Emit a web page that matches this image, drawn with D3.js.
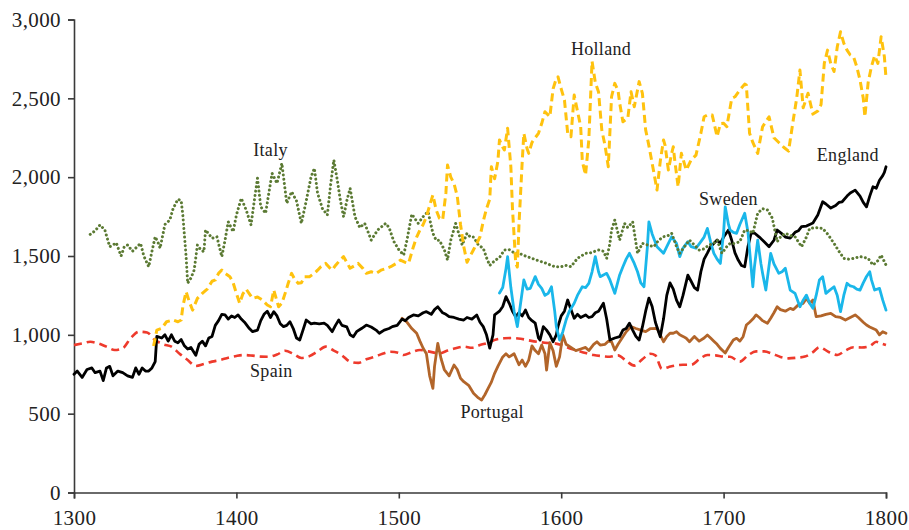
<!DOCTYPE html>
<html>
<head>
<meta charset="utf-8">
<script src="https://cdn.jsdelivr.net/npm/d3@7"></script>
<style>
  html, body { margin: 0; padding: 0; background: #fff; }
  svg { display: block; }
</style>
</head>
<body>
<svg id="chart" width="909" height="530"></svg>
<script>
// ---- Data (year, value) ----
const xTicks = [1300, 1400, 1500, 1600, 1700, 1800];
const yTicks = [0, 500, 1000, 1500, 2000, 2500, 3000];

const spain = [[1300,935],[1305,945],[1310,956],[1315,945],[1320,925],[1325,904],[1330,915],[1335,980],[1340,1020],[1345,1015],[1350,967],[1355,940],[1360,925],[1365,880],[1370,840],[1375,802],[1380,815],[1385,830],[1390,840],[1395,855],[1400,866],[1405,872],[1410,868],[1415,862],[1420,861],[1425,875],[1430,899],[1435,880],[1440,853],[1445,865],[1450,895],[1455,925],[1460,900],[1465,870],[1470,830],[1475,822],[1480,845],[1485,860],[1490,880],[1495,893],[1500,885],[1503,872],[1508,890],[1513,904],[1518,895],[1525,883],[1530,900],[1535,915],[1540,925],[1545,918],[1550,935],[1555,950],[1560,970],[1565,978],[1570,980],[1575,975],[1580,965],[1585,956],[1590,950],[1596,946],[1600,935],[1605,915],[1610,900],[1615,885],[1620,872],[1625,865],[1630,861],[1635,870],[1640,835],[1645,805],[1650,845],[1655,880],[1658,870],[1662,785],[1666,795],[1670,805],[1675,810],[1680,810],[1685,845],[1690,872],[1695,870],[1700,862],[1704,861],[1710,830],[1715,870],[1720,895],[1725,895],[1730,880],[1735,860],[1740,851],[1745,855],[1750,862],[1755,890],[1759,921],[1765,890],[1770,872],[1775,900],[1780,921],[1785,920],[1790,928],[1794,956],[1797,945],[1800,935]];

const portugal = [[1502,1105],[1505,1080],[1508,1040],[1511,1010],[1513,960],[1515,915],[1517,880],[1519,740],[1521,661],[1522,800],[1524,946],[1526,850],[1528,780],[1531,740],[1534,809],[1536,780],[1538,724],[1540,703],[1543,680],[1546,629],[1549,600],[1551,587],[1553,620],[1555,661],[1557,700],[1559,756],[1561,800],[1564,860],[1566,880],[1568,860],[1571,880],[1574,810],[1576,840],[1578,800],[1580,840],[1582,930],[1584,900],[1586,880],[1588,935],[1590,880],[1591,777],[1593,950],[1595,900],[1597,800],[1599,860],[1601,1000],[1603,940],[1606,920],[1609,900],[1612,910],[1615,920],[1617,900],[1620,940],[1622,956],[1624,935],[1627,940],[1629,960],[1631,956],[1633,904],[1635,940],[1638,988],[1640,1020],[1643,1052],[1646,1040],[1649,1030],[1652,1020],[1655,1040],[1659,1041],[1661,1000],[1663,956],[1665,990],[1667,1010],[1669,1010],[1671,1020],[1673,1000],[1675,990],[1677,978],[1679,956],[1682,990],[1685,960],[1688,980],[1690,999],[1692,980],[1694,960],[1696,940],[1698,914],[1701,885],[1703,920],[1706,967],[1708,978],[1710,960],[1712,988],[1714,1062],[1716,1080],[1718,1100],[1720,1126],[1722,1110],[1724,1090],[1727,1073],[1729,1105],[1731,1140],[1733,1178],[1735,1160],[1738,1150],[1741,1168],[1743,1160],[1746,1190],[1749,1200],[1751,1231],[1753,1200],[1755,1221],[1757,1115],[1760,1120],[1763,1130],[1766,1136],[1769,1115],[1772,1110],[1775,1094],[1778,1110],[1781,1126],[1783,1110],[1786,1080],[1788,1062],[1790,1050],[1792,1040],[1794,1030],[1796,1000],[1798,1020],[1800,1010]];

const england = [[1300,750],[1302,770],[1305,730],[1308,780],[1311,790],[1313,760],[1316,770],[1318,710],[1320,790],[1322,800],[1324,740],[1327,770],[1330,760],[1333,740],[1336,730],[1338,790],[1340,750],[1342,790],[1344,770],[1346,770],[1348,790],[1350,830],[1351,990],[1354,980],[1356,1000],[1358,960],[1360,1000],[1362,960],[1364,950],[1366,970],[1368,930],[1370,910],[1372,920],[1375,870],[1377,940],[1379,960],[1381,930],[1383,980],[1385,990],[1387,1060],[1389,1090],[1391,1130],[1393,1126],[1395,1100],[1397,1120],[1399,1110],[1401,1126],[1403,1100],[1405,1080],[1408,1040],[1410,1020],[1413,1030],[1415,1090],[1417,1130],[1419,1150],[1421,1110],[1423,1147],[1425,1120],[1427,1070],[1429,1052],[1431,1060],[1433,1083],[1435,1040],[1437,980],[1439,967],[1441,1030],[1443,1094],[1446,1070],[1448,1074],[1451,1070],[1454,1074],[1456,1060],[1459,1020],[1461,1060],[1463,1094],[1465,1060],[1468,1050],[1470,1000],[1472,988],[1474,1020],[1477,1040],[1480,1062],[1483,1050],[1486,1030],[1488,1010],[1491,1030],[1494,1040],[1496,1052],[1499,1060],[1502,1100],[1504,1090],[1506,1110],[1509,1126],[1512,1120],[1515,1140],[1517,1147],[1520,1130],[1522,1160],[1524,1178],[1527,1140],[1529,1130],[1531,1115],[1534,1110],[1537,1100],[1540,1094],[1542,1110],[1545,1100],[1548,1126],[1550,1080],[1552,1052],[1554,1000],[1556,916],[1558,1000],[1559,1126],[1562,1150],[1564,1180],[1566,1242],[1568,1200],[1570,1150],[1572,1115],[1574,1140],[1576,1120],[1578,1157],[1580,1110],[1582,1090],[1584,1074],[1586,980],[1587,967],[1589,1052],[1591,1030],[1593,1000],[1595,956],[1597,1000],[1598,1052],[1600,1120],[1602,1150],[1604,1221],[1606,1160],[1608,1105],[1610,1130],[1612,1110],[1615,1126],[1617,1110],[1619,1115],[1621,1140],[1623,1150],[1626,1200],[1628,1100],[1630,967],[1633,980],[1636,988],[1638,1030],[1640,1040],[1642,1074],[1644,1030],[1646,990],[1648,967],[1650,1050],[1652,1150],[1654,1233],[1656,1180],[1658,1080],[1661,988],[1663,1100],[1665,1250],[1667,1329],[1669,1290],[1671,1220],[1673,1178],[1675,1250],[1678,1379],[1680,1340],[1682,1300],[1684,1284],[1686,1400],[1688,1480],[1690,1518],[1692,1560],[1694,1580],[1696,1601],[1698,1580],[1700,1620],[1703,1665],[1705,1600],[1707,1520],[1709,1474],[1711,1440],[1713,1432],[1715,1560],[1717,1646],[1719,1646],[1722,1620],[1725,1590],[1728,1559],[1731,1600],[1733,1665],[1736,1640],[1738,1620],[1741,1614],[1744,1650],[1746,1660],[1748,1686],[1751,1690],[1753,1700],[1755,1709],[1758,1760],[1761,1844],[1763,1830],[1766,1804],[1769,1820],[1771,1840],[1773,1844],[1776,1880],[1778,1900],[1781,1918],[1784,1880],[1786,1840],[1788,1812],[1790,1880],[1792,1939],[1794,1930],[1796,1980],[1798,2010],[1799,2030],[1800,2066]];

const sweden = [[1562,1265],[1564,1300],[1566,1420],[1567,1496],[1569,1300],[1571,1150],[1573,1052],[1575,1200],[1577,1348],[1579,1290],[1581,1295],[1584,1369],[1586,1320],[1588,1295],[1590,1250],[1592,1263],[1594,1305],[1596,1150],[1597,1052],[1599,967],[1601,1020],[1603,1094],[1605,1150],[1608,1200],[1610,1250],[1613,1305],[1615,1300],[1617,1327],[1619,1400],[1621,1496],[1623,1400],[1624,1369],[1626,1380],[1628,1390],[1630,1348],[1633,1263],[1636,1380],[1638,1432],[1640,1480],[1642,1517],[1645,1453],[1647,1400],[1649,1330],[1651,1305],[1653,1550],[1654,1717],[1656,1640],[1659,1559],[1661,1538],[1663,1517],[1666,1580],[1668,1622],[1671,1580],[1673,1496],[1675,1550],[1678,1591],[1680,1559],[1683,1549],[1686,1591],[1688,1620],[1690,1675],[1692,1590],[1694,1517],[1696,1480],[1698,1453],[1700,1650],[1701,1812],[1703,1700],[1704,1665],[1706,1650],[1708,1644],[1710,1700],[1713,1771],[1715,1650],[1716,1538],[1718,1305],[1719,1432],[1721,1601],[1723,1450],[1724,1390],[1726,1284],[1729,1517],[1731,1450],[1734,1390],[1736,1400],[1738,1422],[1741,1284],[1744,1263],[1747,1178],[1749,1220],[1751,1252],[1753,1200],[1755,1168],[1757,1250],[1759,1348],[1761,1369],[1763,1263],[1765,1280],[1768,1305],[1770,1250],[1772,1147],[1774,1250],[1776,1327],[1778,1310],[1780,1305],[1782,1290],[1784,1284],[1786,1330],[1788,1370],[1790,1400],[1791,1350],[1793,1284],[1796,1295],[1798,1220],[1800,1157]];

const italy = [[1310,1637],[1313,1660],[1316,1697],[1319,1665],[1322,1559],[1324,1570],[1326,1584],[1329,1500],[1331,1560],[1333,1570],[1336,1530],[1338,1550],[1341,1580],[1343,1500],[1346,1432],[1348,1530],[1350,1622],[1352,1580],[1353,1549],[1356,1700],[1359,1728],[1361,1800],[1364,1861],[1366,1850],[1367,1760],[1369,1500],[1370,1327],[1372,1360],[1374,1411],[1376,1570],[1378,1540],[1380,1527],[1381,1665],[1383,1640],[1385,1612],[1388,1622],[1391,1496],[1393,1600],[1395,1717],[1398,1654],[1400,1760],[1403,1866],[1406,1792],[1409,1697],[1411,1850],[1413,1993],[1415,1812],[1418,1771],[1420,1900],[1422,2024],[1425,1961],[1428,2088],[1431,1834],[1434,1908],[1437,1850],[1440,1707],[1443,1850],[1446,2003],[1448,2056],[1450,1897],[1453,1800],[1456,1760],[1458,1950],[1460,2109],[1462,1990],[1464,1855],[1466,1749],[1468,1850],[1470,1929],[1473,1749],[1476,1680],[1479,1707],[1483,1601],[1487,1665],[1492,1707],[1494,1680],[1497,1591],[1500,1540],[1503,1506],[1505,1600],[1508,1765],[1512,1707],[1515,1750],[1518,1781],[1521,1644],[1523,1600],[1525,1600],[1528,1540],[1530,1474],[1532,1600],[1535,1707],[1537,1640],[1539,1570],[1542,1644],[1544,1620],[1546,1620],[1549,1570],[1552,1549],[1554,1490],[1556,1440],[1559,1470],[1562,1490],[1565,1538],[1568,1540],[1571,1520],[1574,1517],[1578,1500],[1582,1485],[1586,1470],[1591,1453],[1596,1432],[1600,1432],[1603,1440],[1606,1432],[1610,1485],[1615,1517],[1618,1520],[1623,1538],[1626,1530],[1628,1485],[1630,1580],[1631,1665],[1633,1728],[1636,1601],[1639,1707],[1641,1680],[1644,1717],[1647,1517],[1650,1580],[1653,1570],[1657,1559],[1660,1600],[1663,1622],[1666,1630],[1668,1644],[1671,1560],[1673,1517],[1676,1560],[1679,1601],[1682,1570],[1685,1538],[1688,1545],[1691,1570],[1694,1580],[1696,1601],[1699,1517],[1702,1560],[1704,1580],[1707,1580],[1710,1591],[1713,1665],[1716,1660],[1718,1644],[1721,1771],[1724,1800],[1727,1792],[1730,1740],[1733,1591],[1735,1620],[1738,1644],[1741,1630],[1744,1622],[1748,1559],[1751,1620],[1753,1675],[1757,1680],[1761,1675],[1764,1640],[1768,1580],[1771,1530],[1774,1485],[1777,1480],[1780,1485],[1784,1496],[1787,1490],[1789,1485],[1792,1443],[1795,1470],[1797,1506],[1800,1443]];

const holland = [[1349,929],[1351,1030],[1354,1041],[1357,1083],[1361,1094],[1364,1083],[1366,1094],[1367,1178],[1369,1274],[1371,1210],[1373,1157],[1376,1231],[1379,1263],[1382,1290],[1385,1340],[1387,1348],[1389,1390],[1391,1411],[1393,1390],[1396,1369],[1398,1330],[1400,1263],[1402,1200],[1404,1260],[1406,1290],[1408,1260],[1410,1231],[1413,1240],[1416,1221],[1419,1189],[1421,1178],[1423,1284],[1426,1178],[1428,1200],[1430,1263],[1432,1330],[1434,1390],[1436,1350],[1438,1327],[1440,1330],[1442,1369],[1445,1369],[1448,1390],[1450,1410],[1452,1432],[1455,1453],[1457,1430],[1459,1411],[1461,1440],[1463,1464],[1466,1496],[1468,1460],[1470,1422],[1473,1440],[1475,1453],[1478,1420],[1480,1390],[1483,1400],[1486,1390],[1489,1410],[1492,1420],[1495,1432],[1498,1450],[1501,1474],[1504,1460],[1506,1453],[1509,1559],[1511,1620],[1513,1665],[1515,1700],[1517,1749],[1519,1820],[1521,1887],[1523,1792],[1525,1740],[1527,1728],[1529,1900],[1530,2077],[1532,2000],[1534,1960],[1536,1880],[1538,1700],[1540,1560],[1542,1460],[1544,1500],[1546,1540],[1548,1580],[1550,1622],[1552,1720],[1554,1800],[1556,1860],[1557,2066],[1559,1990],[1561,2100],[1562,2236],[1564,2190],[1565,2172],[1567,2310],[1569,2066],[1570,1800],[1572,1453],[1573,1430],[1574,1700],[1576,2100],[1577,2278],[1579,2180],[1580,2151],[1582,2220],[1583,2236],[1586,2278],[1588,2340],[1590,2415],[1593,2383],[1595,2560],[1597,2627],[1598,2637],[1600,2560],[1602,2489],[1604,2278],[1606,2257],[1608,2521],[1610,2420],[1612,2320],[1613,2100],[1615,2014],[1617,2236],[1619,2735],[1621,2600],[1623,2540],[1625,2299],[1627,2200],[1629,2066],[1631,2510],[1633,2595],[1635,2550],[1636,2470],[1638,2352],[1641,2373],[1643,2542],[1645,2447],[1648,2606],[1650,2532],[1652,2300],[1654,2200],[1656,2088],[1659,1918],[1661,2100],[1663,2236],[1664,2200],[1666,2045],[1668,2150],[1669,2193],[1670,2100],[1672,1939],[1674,2151],[1677,2045],[1680,2109],[1683,2140],[1686,2278],[1688,2383],[1690,2394],[1693,2394],[1696,2257],[1698,2340],[1700,2342],[1702,2320],[1705,2500],[1707,2510],[1710,2553],[1713,2590],[1714,2584],[1716,2278],[1718,2220],[1721,2151],[1724,2320],[1728,2383],[1731,2250],[1734,2220],[1737,2190],[1740,2165],[1743,2370],[1745,2500],[1747,2679],[1749,2440],[1752,2532],[1755,2400],[1758,2420],[1760,2460],[1762,2722],[1764,2806],[1766,2720],[1768,2670],[1770,2827],[1772,2922],[1774,2850],[1776,2806],[1778,2775],[1780,2764],[1782,2700],[1784,2616],[1786,2500],[1787,2383],[1789,2600],[1791,2700],[1793,2770],[1795,2722],[1797,2891],[1799,2764],[1800,2630]];

const countryLabels = [
  {name: "Italy", year: 1421, value: 2135},
  {name: "Holland", year: 1624.5, value: 2775},
  {name: "England", year: 1776.5, value: 2100},
  {name: "Sweden", year: 1703, value: 1825},
  {name: "Spain", year: 1421.5, value: 735},
  {name: "Portugal", year: 1557.5, value: 475}
];

// ---- Layout ----
const SERIF = "'Liberation Serif', 'Times New Roman', serif";
const margin = {left: 74, top: 19.5, right: 23, bottom: 37.5};
const W = 909, H = 530;
const iw = W - margin.left - margin.right;
const ih = H - margin.top - margin.bottom;

const svg = d3.select("#chart");
const g = svg.append("g").attr("transform", `translate(${margin.left},${margin.top})`);

const x = d3.scaleLinear().domain([1300, 1800]).range([0, iw]);
const y = d3.scaleLinear().domain([0, 3000]).range([ih, 0]);

// Axes
const yAxis = d3.axisLeft(y).tickValues(yTicks).tickFormat(d3.format(",")).tickSize(6).tickPadding(7);
const xAxis = d3.axisBottom(x).tickValues(xTicks).tickFormat(d3.format("d")).tickSize(6).tickPadding(12);

const gy = g.append("g").call(yAxis);
const gx = g.append("g").attr("transform", `translate(0,${ih})`).call(xAxis);
[gy, gx].forEach(ax => {
  ax.attr("font-family", SERIF).attr("font-size", 21);
  ax.select(".domain").attr("stroke", "#3a3a3a").attr("stroke-width", 1.6);
  ax.selectAll(".tick line").attr("stroke", "#3a3a3a").attr("stroke-width", 1.6);
  ax.selectAll(".tick text")
    .attr("fill", "#222")
    .style("font-family", SERIF)
    .style("font-size", "21px")
    .style("letter-spacing", "0.4px");
});
gx.selectAll(".tick text").attr("dy", "0.71em");

// Lines
const line = d3.line().x(d => x(d[0])).y(d => y(d[1]));
const smooth = d3.line().x(d => x(d[0])).y(d => y(d[1])).curve(d3.curveMonotoneX);

const series = [
  {data: spain, gen: smooth, color: "#ee3a2c", width: 2.6, dash: "8,5", cap: "butt"},
  {data: portugal, gen: line, color: "#b2652a", width: 2.8, dash: null, cap: "round"},
  {data: england, gen: line, color: "#000000", width: 2.8, dash: null, cap: "round"},
  {data: sweden, gen: line, color: "#1ab7ea", width: 2.8, dash: null, cap: "round"},
  {data: italy, gen: line, color: "#5b7a33", width: 3, dash: "0.01,4.3", cap: "round"},
  {data: holland, gen: line, color: "#ffc20e", width: 3, dash: "8,4.5", cap: "butt"}
];

series.forEach(s => {
  g.append("path")
    .datum(s.data)
    .attr("fill", "none")
    .attr("stroke", s.color)
    .attr("stroke-width", s.width)
    .attr("stroke-linejoin", "round")
    .attr("stroke-linecap", s.cap)
    .attr("stroke-dasharray", s.dash)
    .attr("d", s.gen);
});

// Labels
g.selectAll(".clabel")
  .data(countryLabels)
  .enter().append("text")
  .attr("class", "clabel")
  .attr("x", d => x(d.year))
  .attr("y", d => y(d.value))
  .attr("text-anchor", "middle")
  .attr("fill", "#222")
  .style("font-family", SERIF)
  .style("font-size", "18px")
  .style("letter-spacing", "0.3px")
  .text(d => d.name);
</script>
</body>
</html>
